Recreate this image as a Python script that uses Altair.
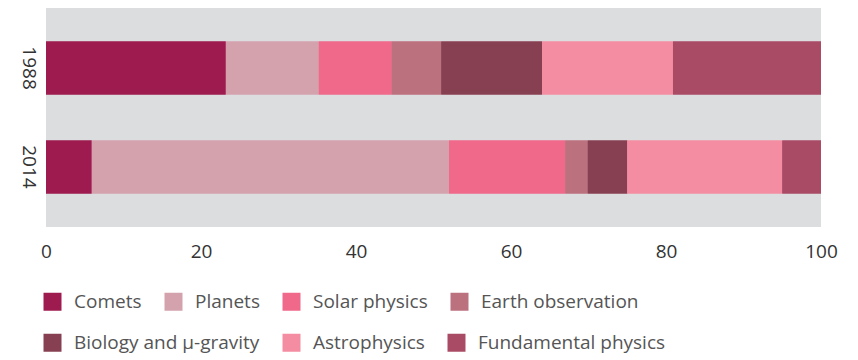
import altair as alt
import pandas as pd

years = ["1988", "2014"]
categories = ["Comets", "Planets", "Solar physics", "Earth observation",
              "Biology and μ-gravity", "Astrophysics", "Fundamental physics"]
colors = ["#9E1B4F", "#D4A2AD", "#F0688A", "#BC717F", "#874052", "#F48DA2", "#AA4B66"]
values_1988 = [23.2, 12.0, 9.4, 6.4, 13.0, 16.9, 19.1]
values_2014 = [5.9, 46.1, 15.0, 2.9, 5.1, 20.0, 5.0]
legend_row1 = categories[:4]
legend_row2 = categories[4:]

rows = []
for yr, vals in zip(years, [values_1988, values_2014]):
    for i, (c, v) in enumerate(zip(categories, vals)):
        rows.append({"year": yr, "category": c, "category2": c, "value": v, "idx": i})
df = pd.DataFrame(rows)

FONT = "Open Sans"


def legend(values, y):
    return alt.Legend(title=None, orient="none", legendX=-3, legendY=y,
                      direction="horizontal", values=values,
                      symbolType="square", symbolSize=324, symbolOpacity=1,
                      symbolStrokeWidth=0, labelFontSize=19,
                      labelColor="#555555", labelFont=FONT,
                      labelOffset=12, columnPadding=22, labelLimit=400)


x_enc = alt.X("value:Q", stack="zero",
              scale=alt.Scale(domain=[0, 100], nice=False),
              axis=alt.Axis(values=[0, 20, 40, 60, 80, 100], title=None, grid=False,
                            domain=False, ticks=False, labelFontSize=19,
                            labelColor="#333333", labelPadding=15, labelFlush=False,
                            labelFont=FONT))
y_enc = alt.Y("year:N", sort=years,
              scale=alt.Scale(paddingInner=0.465, paddingOuter=0.34),
              axis=alt.Axis(title=None, domain=False, ticks=False, labelAngle=90,
                            labelFontSize=19, labelColor="#333333", labelPadding=9,
                            labelAlign="center", labelBaseline="top",
                            labelFont=FONT))

base = alt.Chart(df)
layer1 = base.mark_bar().encode(
    x=x_enc, y=y_enc,
    color=alt.Color("category:N", sort=categories,
                    scale=alt.Scale(domain=categories, range=colors),
                    legend=legend(legend_row1, 284)),
    order=alt.Order("idx:Q"),
)
layer2 = base.mark_bar().encode(
    x=x_enc, y=y_enc,
    fill=alt.Fill("category2:N", sort=categories,
                  scale=alt.Scale(domain=categories, range=colors),
                  legend=legend(legend_row2, 325)),
    order=alt.Order("idx:Q"),
)

chart = alt.layer(layer1, layer2).resolve_scale(
    color="independent", fill="independent"
).resolve_legend(
    color="independent", fill="independent"
).properties(
    width=775, height=219,
    autosize=alt.AutoSizeParams(type="none"),
    padding={"left": 46, "top": 8, "right": 37, "bottom": 133},
).configure_view(
    fill="#DCDDDF", stroke=None
)

chart.save("out.html", embed_options={"renderer": "svg", "actions": False})
